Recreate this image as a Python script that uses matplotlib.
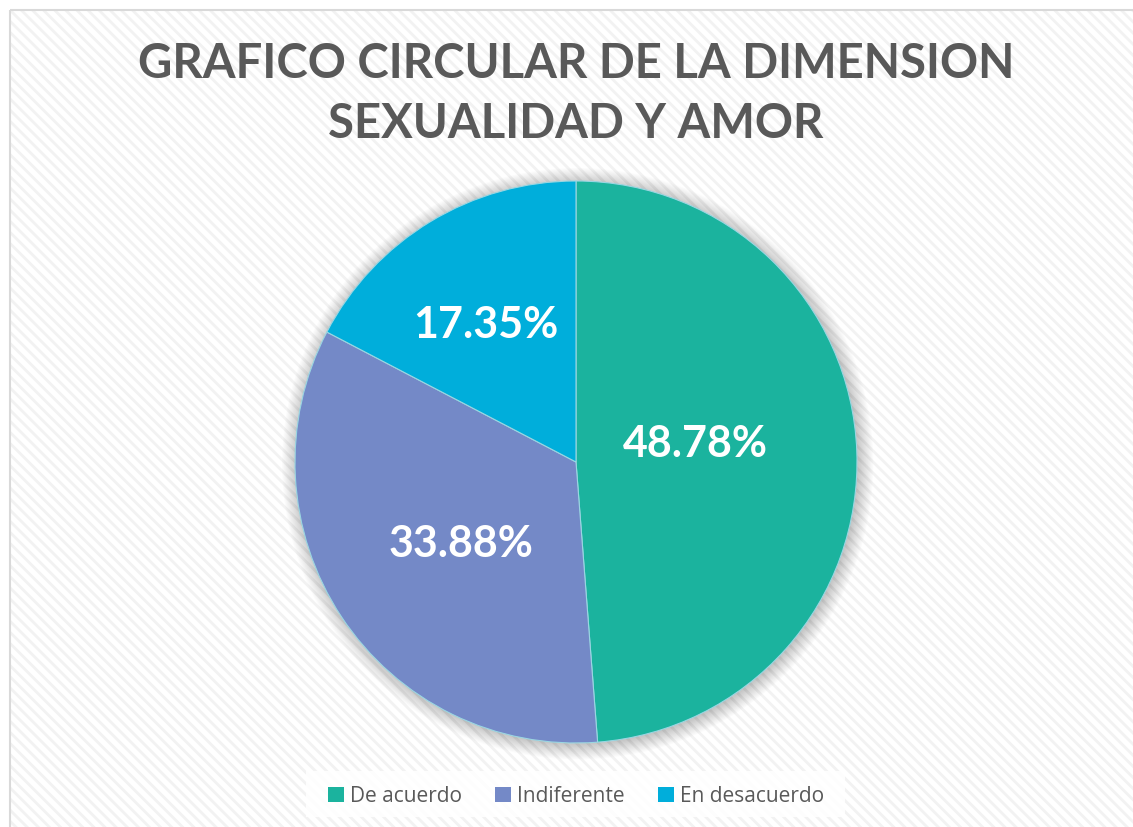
import matplotlib
matplotlib.use("Agg")
import matplotlib.pyplot as plt
from matplotlib.patches import Rectangle, Circle
import numpy as np

categories = ["De acuerdo", "Indiferente", "En desacuerdo"]
values = [48.78, 33.88, 17.35]
colors = ["#1BB39E", "#7489C7", "#00AEDB"]
title = "GRAFICO CIRCULAR DE LA DIMENSION\nSEXUALIDAD Y AMOR"
label_dist = [0.43, 0.50, 0.585]
label_turn = [6.9, 2.0, 1.9]

W, H = 1133, 828
fig = plt.figure(figsize=(W / 100, H / 100), dpi=100)
fig.patch.set_facecolor("white")

plt.rcParams["hatch.color"] = "#f2f2f2"
plt.rcParams["hatch.linewidth"] = 2.0

# background with hatch and frame
bg = fig.add_axes([0, 0, 1, 1], zorder=-5)
bg.set_xlim(0, W)
bg.set_ylim(H, 0)
bg.axis("off")
bg.add_patch(Rectangle((10, 11), W + 20, H + 20, facecolor="white",
                       edgecolor="#f2f2f2", hatch="\\\\\\", lw=0))
bg.add_patch(Rectangle((10, 11), W + 20, H + 20, facecolor="none",
                       edgecolor="#d9d9d9", lw=1.5))
# legend backing
bg.add_patch(Rectangle((306, 772), 539, 46, facecolor="white", edgecolor="none", alpha=0.85))

cx, cy, r = 576, 463, 281
ax = fig.add_axes([(cx - r) / W, (H - cy - r) / H, 2 * r / W, 2 * r / H])

# soft shadow
for i in range(14):
    ax.add_patch(Circle((0.006, -0.006), 1 + 0.004 * i, facecolor="black",
                        alpha=0.016, lw=0, zorder=0, clip_on=False))

wedges, texts = ax.pie(
    values, colors=colors, startangle=90, counterclock=False, radius=1,
    wedgeprops=dict(linewidth=0.8, edgecolor="#9ad6e2"),
)
for w in wedges:
    w.set_zorder(2)
ax.set_xlim(-1, 1)
ax.set_ylim(-1, 1)
ax.set_aspect("auto")
ax.axis("off")

for w, v, d, t in zip(wedges, values, label_dist, label_turn):
    ang = np.deg2rad((w.theta1 + w.theta2) / 2 + t)
    ax.text(d * np.cos(ang), d * np.sin(ang), f"{v:.2f}%", color="white",
            fontsize=31, fontweight="bold", family="Lato",
            ha="center", va="center", zorder=5)

fig.text(cx / W, 1 - 94 / H, title, ha="center", va="center",
         fontsize=34, fontweight="bold", family="Lato", color="#595959",
         linespacing=1.45)

handles = [Rectangle((0, 0), 1, 1, facecolor=c) for c in colors]
leg = fig.legend(handles, categories, loc="center", bbox_to_anchor=(cx / W, 1 - 797 / H),
                 ncol=3, frameon=False, prop=dict(family="Open Sans", size=15),
                 handlelength=0.75, handleheight=0.75, handletextpad=0.3,
                 columnspacing=1.6)
for t in leg.get_texts():
    t.set_color("#595959")

fig.savefig("out.png", dpi=100)
